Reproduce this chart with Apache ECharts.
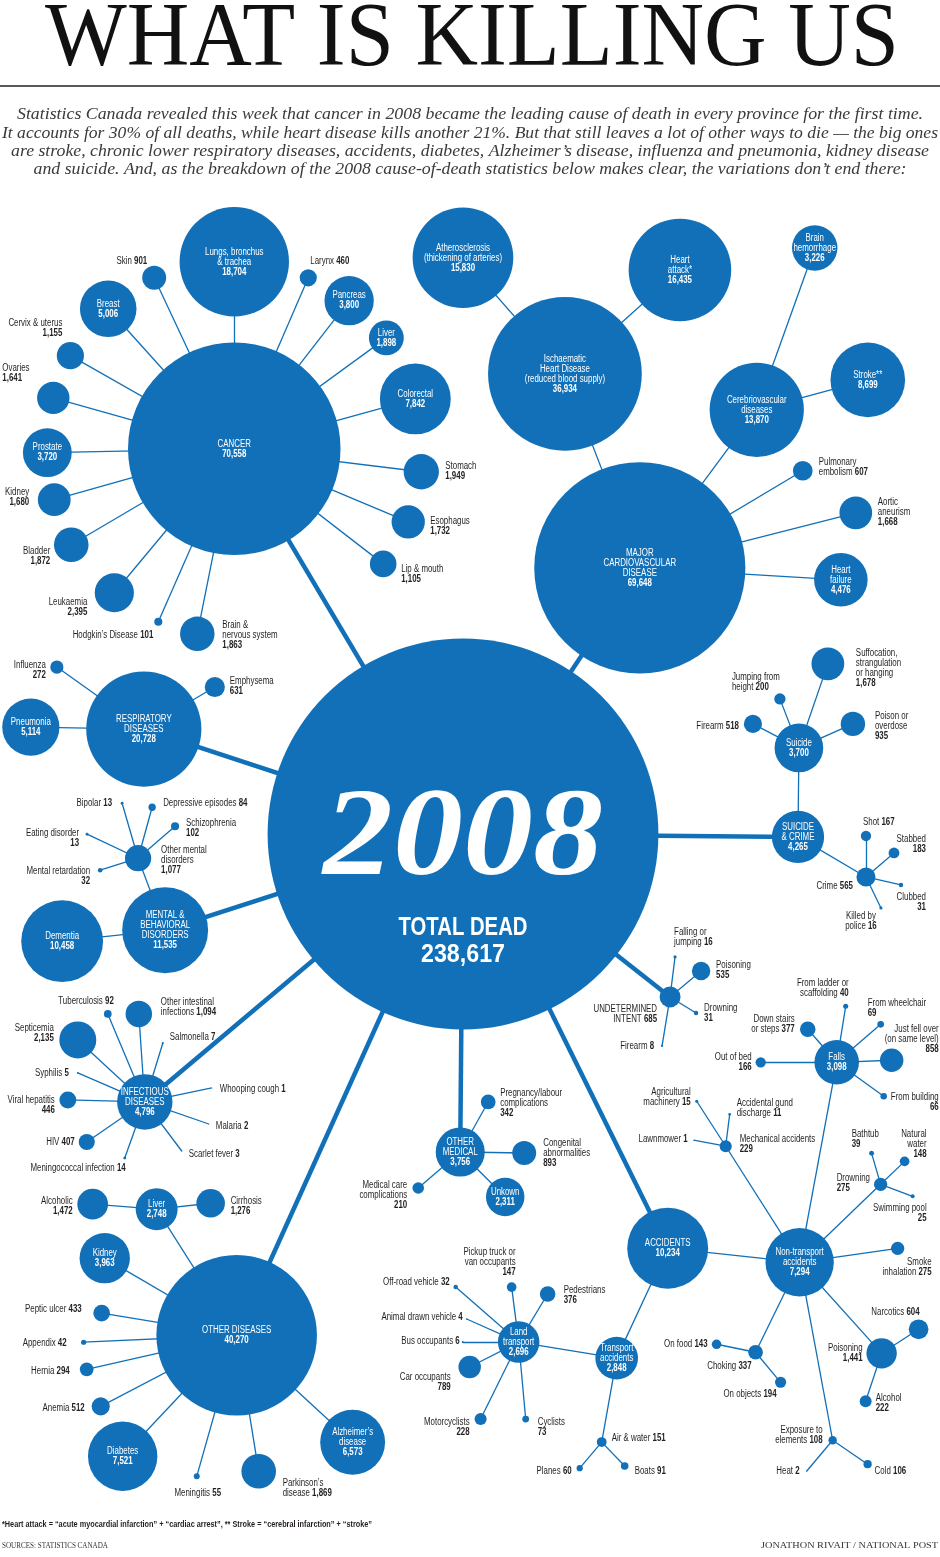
<!DOCTYPE html>
<html><head><meta charset="utf-8">
<script src="https://cdn.jsdelivr.net/npm/echarts@6/dist/echarts.min.js"></script>
<style>html,body{margin:0;padding:0;background:#fff}#chart{width:940px;height:1557px}</style>
</head><body><div id="chart"></div>
<script>
// ---------------- DATA (deaths, Canada 2008) ----------------
const year = '2008';
const rootLabel = 'TOTAL DEAD';
const rootDeaths = 238617;

const causeLabels = ['CANCER', 'MAJOR\nCARDIOVASCULAR\nDISEASE', 'RESPIRATORY\nDISEASES', 'MENTAL &\nBEHAVIORAL\nDISORDERS', 'INFECTIOUS\nDISEASES', 'OTHER DISEASES', 'OTHER\nMEDICAL', 'ACCIDENTS', 'UNDETERMINED\nINTENT ', 'SUICIDE\n& CRIME'];
const causeDeaths = [70558, 69648, 20728, 11535, 4796, 40270, 3756, 10234, 685, 4265];

const cancerLabels = ['Lungs, bronchus\n& trachea', 'Skin ', 'Breast', 'Cervix & uterus', 'Ovaries', 'Prostate', 'Kidney', 'Bladder', 'Leukaemia', 'Hodgkin’s Disease ', 'Brain &\nnervous system', 'Lip & mouth', 'Esophagus', 'Stomach', 'Colorectal', 'Liver', 'Pancreas', 'Larynx '];
const cancerDeaths = [18704, 901, 5006, 1155, 1641, 3720, 1680, 1872, 2395, 101, 1863, 1105, 1732, 1949, 7842, 1898, 3800, 460];

const cardioLabels = ['Ischaematic\nHeart Disease\n(reduced blood supply)', 'Cerebriovascular\ndiseases', 'Pulmonary\nembolism ', 'Aortic\naneurism', 'Heart\nfailure'];
const cardioDeaths = [36934, 13870, 607, 1668, 4476];
const ischaemicLabels = ['Atherosclerosis\n(thickening of arteries)', 'Heart\nattack*'];
const ischaemicDeaths = [15830, 16435];
const cerebroLabels = ['Brain\nhemorrhage', 'Stroke**'];
const cerebroDeaths = [3226, 8699];

const respiratoryLabels = ['Influenza', 'Emphysema', 'Pneumonia'];
const respiratoryDeaths = [272, 631, 5114];

const mentalLabels = ['Dementia', 'Other mental\ndisorders'];
const mentalDeaths = [10458, 1077];
const otherMentalLabels = ['Bipolar ', 'Depressive episodes ', 'Schizophrenia', 'Eating disorder', 'Mental retardation'];
const otherMentalDeaths = [13, 84, 102, 13, 32];

const infectiousLabels = ['Tuberculosis ', 'Other intestinal\ninfections ', 'Septicemia', 'Salmonella ', 'Syphilis ', 'Whooping cough ', 'Viral hepatitis', 'Malaria ', 'HIV ', 'Scarlet fever ', 'Meningococcal infection '];
const infectiousDeaths = [92, 1094, 2135, 7, 5, 1, 446, 2, 407, 3, 14];

const otherDiseaseLabels = ['Liver', 'Kidney', 'Peptic ulcer ', 'Appendix ', 'Hernia ', 'Anemia ', 'Diabetes', 'Meningitis ', 'Parkinson’s\ndisease ', 'Alzheimer’s\ndisease'];
const otherDiseaseDeaths = [2748, 3963, 433, 42, 294, 512, 7521, 55, 1869, 6573];
const liverLabels = ['Alcoholic', 'Cirrhosis'];
const liverDeaths = [1472, 1276];

const otherMedicalLabels = ['Pregnancy/labour\ncomplications', 'Congenital\nabnormalities', 'Unkown', 'Medical care\ncomplications'];
const otherMedicalDeaths = [342, 893, 2311, 210];

const accidentLabels = ['Non-transport\naccidents', 'Transport\naccidents'];
const accidentDeaths = [7294, 2848];
const nonTransportLabels = ['Falls', 'Mechanical accidents', 'Drowning', 'Smoke\ninhalation ', 'Poisoning', 'Exposure to\nelements ', 'Choking '];
const nonTransportDeaths = [3098, 229, 275, 275, 1441, 108, 337];
const fallLabels = ['From ladder or\nscaffolding ', 'From wheelchair', 'Just fell over\n(on same level)', 'From building', 'Down stairs\nor steps ', 'Out of bed'];
const fallDeaths = [40, 69, 858, 66, 377, 166];
const mechanicalLabels = ['Agricultural\nmachinery ', 'Accidental gund\ndischarge ', 'Lawnmower '];
const mechanicalDeaths = [15, 11, 1];
const drowningLabels = ['Bathtub', 'Natural\nwater', 'Swimming pool'];
const drowningDeaths = [39, 148, 25];
const poisoningLabels = ['Narcotics ', 'Alcohol'];
const poisoningDeaths = [604, 222];
const exposureLabels = ['Heat ', 'Cold '];
const exposureDeaths = [2, 106];
const chokingLabels = ['On food ', 'On objects '];
const chokingDeaths = [143, 194];
const transportLabels = ['Land\ntransport', 'Air & water '];
const transportDeaths = [2696, 151];
const landLabels = ['Pickup truck or\nvan occupants', 'Off-road vehicle ', 'Pedestrians', 'Animal drawn vehicle ', 'Bus occupants ', 'Car occupants', 'Motorcyclists', 'Cyclists'];
const landDeaths = [147, 32, 376, 4, 6, 789, 228, 73];
const airWaterLabels = ['Planes ', 'Boats '];
const airWaterDeaths = [60, 91];

const undeterminedLabels = ['Falling or\njumping ', 'Poisoning', 'Drowning', 'Firearm '];
const undeterminedDeaths = [16, 535, 31, 8];
const suicideCrimeLabels = ['Suicide', 'Crime '];
const suicideCrimeDeaths = [3700, 565];
const suicideLabels = ['Firearm ', 'Jumping from\nheight ', 'Suffocation,\nstrangulation\nor hanging', 'Poison or\noverdose'];
const suicideDeaths = [518, 200, 1678, 935];
const crimeLabels = ['Shot ', 'Stabbed', 'Clubbed', 'Killed by\npolice '];
const crimeDeaths = [167, 183, 31, 16];

// [group, parent group, index of parent in that group, labels, deaths]
const hierarchy = [
  ['causes', 'root', 0, causeLabels, causeDeaths],
  ['cancer', 'causes', 0, cancerLabels, cancerDeaths],
  ['cardio', 'causes', 1, cardioLabels, cardioDeaths],
  ['ischaemic', 'cardio', 0, ischaemicLabels, ischaemicDeaths],
  ['cerebro', 'cardio', 1, cerebroLabels, cerebroDeaths],
  ['respiratory', 'causes', 2, respiratoryLabels, respiratoryDeaths],
  ['mental', 'causes', 3, mentalLabels, mentalDeaths],
  ['otherMental', 'mental', 1, otherMentalLabels, otherMentalDeaths],
  ['infectious', 'causes', 4, infectiousLabels, infectiousDeaths],
  ['otherDiseases', 'causes', 5, otherDiseaseLabels, otherDiseaseDeaths],
  ['liver', 'otherDiseases', 0, liverLabels, liverDeaths],
  ['otherMedical', 'causes', 6, otherMedicalLabels, otherMedicalDeaths],
  ['accidents', 'causes', 7, accidentLabels, accidentDeaths],
  ['nonTransport', 'accidents', 0, nonTransportLabels, nonTransportDeaths],
  ['falls', 'nonTransport', 0, fallLabels, fallDeaths],
  ['mechanical', 'nonTransport', 1, mechanicalLabels, mechanicalDeaths],
  ['drowning', 'nonTransport', 2, drowningLabels, drowningDeaths],
  ['poisoning', 'nonTransport', 4, poisoningLabels, poisoningDeaths],
  ['exposure', 'nonTransport', 5, exposureLabels, exposureDeaths],
  ['choking', 'nonTransport', 6, chokingLabels, chokingDeaths],
  ['transport', 'accidents', 1, transportLabels, transportDeaths],
  ['land', 'transport', 0, landLabels, landDeaths],
  ['airWater', 'transport', 1, airWaterLabels, airWaterDeaths],
  ['undetermined', 'causes', 8, undeterminedLabels, undeterminedDeaths],
  ['suicideCrime', 'causes', 9, suicideCrimeLabels, suicideCrimeDeaths],
  ['suicide', 'suicideCrime', 0, suicideLabels, suicideDeaths],
  ['crime', 'suicideCrime', 1, crimeLabels, crimeDeaths]
];

// ---------------- LAYOUT (branch direction in degrees, branch length) ----------------
const ROOT_POS = [463, 834];
const placement = {
  causes: [[-120.7,448],[-56.4,319.5],[-161.8,336],[162.1,313],[139.9,416],[114.3,550],[90.5,318],[63.7,462],[38.2,263.5],[0.5,335]],
  cancer: [[-90,187],[-115.1,188.8],[-132,188.4],[-150.4,188.5],[-164.3,188],[178.8,187],[164.2,187.1],[149.5,189.2],[129.8,187.4],[113.7,189],[101.3,188.7],[37.7,188.2],[22.8,188.7],[7,188.4],[-15.4,187.8],[-36.1,188.2],[-52.2,187.4],[-66.6,186.3]],
  cardio: [[-111.1,208],[-53.5,196.6],[-30.8,189.7],[-14.3,222.9],[3.4,201.4]],
  ischaemic: [[-131.3,154.5],[-42.1,155]],
  cerebro: [[-70.3,172],[-15.1,115]],
  respiratory: [[-144.5,106.8],[-30.6,82.5],[-179,113]],
  mental: [[173.9,103.6],[-110.6,76.9]],
  otherMental: [[-106.2,57.3],[-74.6,52.9],[-40.9,48.9],[-154.8,56.4],[162.5,39.8]],
  infectious: [[-112.8,95.5],[-93.9,88.2],[-137.2,91.3],[-73,61.7],[-156.6,73],[-11.8,68.4],[-178.5,77],[19,67.7],[145.4,70.5],[53,61.4],[109.7,59.5]],
  otherDiseases: [[-122.4,149.3],[-149.7,152.8],[-170.7,136.8],[177.4,153.2],[167.2,153.8],[152.4,153.4],[133.3,166.2],[105.8,146.6],[80.8,137.8],[42.7,157.8]],
  liver: [[-175.5,64.2],[-6.3,54.3]],
  otherMedical: [[-60.8,57.3],[0.9,64],[45,63.6],[139.4,55.3]],
  accidents: [[6.1,132.7],[114.9,121.2]],
  nonTransport: [[-79.5,203.4],[-122.5,137.6],[-43.9,112.4],[-8.1,99],[48,122.5],[79.5,181],[116.1,100.2]],
  falls: [[-80.9,56.7],[-40.8,58.1],[-2.1,55],[35.9,58],[-131.3,43.9],[180,76]],
  mechanical: [[-122.8,53.5],[-82.9,32.2],[-169.4,32.6]],
  drowning: [[-106.2,32.3],[-43.8,33.2],[20.6,34.2]],
  poisoning: [[-33,44.1],[108.4,50.6]],
  exposure: [[130,40.5],[34.4,42.4]],
  choking: [[-168.4,39.8],[50.2,39.1]],
  transport: [[-170.7,99.3],[100.1,85.3]],
  land: [[-97.3,55.4],[-138.9,83.6],[-58.9,56.1],[-156.1,56.9],[180,56],[153,55],[116.3,85.9],[84.8,77.3]],
  airWater: [[130.2,34.1],[46.2,33.2]],
  undetermined: [[-82.9,40.3],[-40,40.5],[31.6,30.5],[99.3,49.6]],
  suicideCrime: [[-89.4,89],[30.5,78.9]],
  suicide: [[-152.4,51.9],[-111.2,52.6],[-71,88.9],[-24,59.1]],
  crime: [[-90,41],[-40.6,36.9],[12.9,35.9],[64.2,34.4]]
};
// 'in' = white label inside the bubble, otherwise [dx, dy, align] of the outside label
const labelPlace = {
  causes: ['in','in','in','in','in','in','in','in',[-13,17,'right'],'in'],
  cancer: ['in',[-7,-17,'right'],'in',[-8,-27,'right'],[-51,-25,'left'],'in',[-25,-2,'right'],[-21,11,'right'],[-27,14,'right'],[-5,13,'right'],[25,1,'left'],[18,10,'left'],[22,4,'left'],[24,0,'left'],'in','in','in',[2,-17,'left']],
  cardio: ['in','in',[16,-3,'left'],[22,-1,'left'],'in'],
  ischaemic: ['in','in'],
  cerebro: ['in','in'],
  respiratory: [[-11,3,'right'],[15,-1,'left'],'in'],
  mental: ['in',[23,2,'left']],
  otherMental: [[-10,0,'right'],[11,-4,'left'],[11,2,'left'],[-8,4,'right'],[-10,6,'right']],
  infectious: [[6,-13,'right'],[22,-7,'left'],[-24,-7,'right'],[7,-6,'left'],[-9,0,'right'],[8,1,'left'],[-13,5,'right'],[7,2,'left'],[-12,0,'right'],[7,3,'left'],[1,10,'right']],
  otherDiseases: ['in','in',[-20,-4,'right'],[-17,1,'right'],[-17,2,'right'],[-16,2,'right'],'in',[1,17,'center'],[24,17,'left'],'in'],
  liver: [[-20,2,'right'],[20,3,'left']],
  otherMedical: [[12,1,'left'],[19,0,'left'],'in',[-11,7,'right']],
  accidents: ['in','in'],
  nonTransport: ['in',[14,-2,'left'],[-44,-1,'left'],[34,19,'right'],[-19,0,'right'],[-10,-5,'right'],[-4,14,'right']],
  falls: [[3,-18,'right'],[-13,-16,'left'],[47,-21,'right'],[55,6,'right'],[-13,-5,'right'],[-9,0,'right']],
  mechanical: [[-6,-4,'right'],[7,-6,'left'],[-6,-1,'right']],
  drowning: [[-20,-14,'left'],[22,-17,'right'],[14,17,'right']],
  poisoning: [[1,-17,'right'],[10,2,'left']],
  exposure: [[-7,0,'right'],[7,7,'left']],
  choking: [[-9,0,'right'],[-4,12,'right']],
  transport: ['in',[10,-4,'left']],
  land: [[4,-25,'right'],[-6,-5,'right'],[16,1,'left'],[-4,-2,'right'],[-3,-1,'right'],[-19,15,'right'],[-11,8,'right'],[12,8,'left']],
  airWater: [[-8,3,'right'],[10,5,'left']],
  undetermined: [[-1,-20,'left'],[15,-1,'left'],[8,0,'left'],[-8,0,'right']],
  suicideCrime: ['in',[-13,9,'right']],
  suicide: [[-14,2,'right'],[-48,-17,'left'],[28,4,'left'],[22,2,'left']],
  crime: [[-3,-14,'left'],[32,-9,'right'],[25,17,'right'],[-20,13,'center']]
};

// ---------------- STYLE ----------------
const BLUE = '#1170b8';
const INK = '#231f20';
const SANS = '"Liberation Sans", Arial, sans-serif';
const SERIF = '"Liberation Serif", "DejaVu Serif", serif';
const FS = 10, LH = 10, NARROW = 0.79;   // condensed look: horizontally squeezed sans

const diameter = v => Math.max(1, 0.8 * Math.sqrt(v));   // bubble area proportional to deaths
const fmt = v => v.toLocaleString('en-US');

const mctx = document.createElement('canvas').getContext('2d');
function fit(text, font, target) { mctx.font = font; mctx.textBaseline = 'alphabetic'; return target / mctx.measureText(text).width; }
// glyph extents relative to a 'middle' text baseline (as zrender draws single lines)
function vext(text, font) {
  mctx.font = font; mctx.textBaseline = 'middle';
  const m = mctx.measureText(text);
  return { up: m.actualBoundingBoxAscent, down: m.actualBoundingBoxDescent };
}
// font size giving a wanted glyph height, and the y that puts the glyph box at [top, bottom]
function sizeFor(text, style, family, height) {
  const e = vext(text, style + ' 100px ' + family);
  return 100 * height / (e.up + e.down);
}
function yFor(text, font, top, bottom) {
  const e = vext(text, font);
  return (top + bottom) / 2 - (e.down - e.up) / 2;
}

// ---------------- BUILD GRAPH ----------------
const nodes = [], links = [], labelEls = [];
const pos = { 'root:0': ROOT_POS };
nodes.push({ id: 'root:0', name: rootLabel, value: rootDeaths, x: ROOT_POS[0], y: ROOT_POS[1], symbolSize: diameter(rootDeaths) });

function addLabel(x, y, txt, align, color) {
  labelEls.push({
    type: 'text', z: 100, silent: true, x, y, scaleX: NARROW,
    style: {
      text: txt, fontFamily: SANS, fontSize: FS, lineHeight: LH, fill: color,
      align, verticalAlign: 'middle',
      rich: { v: { fontFamily: SANS, fontSize: FS, lineHeight: LH, fontWeight: 'bold', fill: color, align } }
    }
  });
}

hierarchy.forEach(([g, pg, pi, labels, values]) => {
  const pid = pg + ':' + pi;
  const p = pos[pid];
  labels.forEach((lab, i) => {
    const [ang, dist] = placement[g][i];
    const r = ang * Math.PI / 180;
    const x = p[0] + dist * Math.cos(r), y = p[1] + dist * Math.sin(r);
    const id = g + ':' + i;
    pos[id] = [x, y];
    const v = values[i];
    const txt = (lab.endsWith(' ') ? lab : lab + '\n') + '{v|' + fmt(v) + '}';
    const lp = labelPlace[g][i];
    if (lp === 'in') addLabel(x, y, txt, 'center', '#fff');
    else addLabel(x + lp[0], y + lp[1], txt, lp[2], INK);
    nodes.push({ id, name: lab.trim(), value: v, x, y, symbolSize: diameter(v) });
    links.push({ source: pid, target: id, lineStyle: { width: pg === 'root' ? 4.5 : 1.3 } });
  });
});
// invisible frame nodes so the graph view maps 1:1 onto the page
nodes.push({ id: 'frameA', x: 0, y: 0, symbolSize: 0, itemStyle: { opacity: 0 } });
nodes.push({ id: 'frameB', x: 940, y: 1557, symbolSize: 0, itemStyle: { opacity: 0 } });

// centre label of the root bubble
const yearFont = 'italic bold ' + sizeFor(year, 'italic bold', SERIF, 85).toFixed(1) + 'px ' + SERIF;
const totalFont = 'bold 25px ' + SANS;
labelEls.push({ type: 'text', z: 100, silent: true, x: ROOT_POS[0], y: yFor(year, yearFont, 790, 875), scaleX: fit(year, yearFont, 280),
  style: { text: year, font: yearFont, fill: '#fff', align: 'center', verticalAlign: 'middle' } });
labelEls.push({ type: 'text', z: 100, silent: true, x: ROOT_POS[0], y: ROOT_POS[1] + 94, scaleX: fit(rootLabel, totalFont, 129),
  style: { text: rootLabel, font: totalFont, fill: '#fff', align: 'center', verticalAlign: 'middle' } });
labelEls.push({ type: 'text', z: 100, silent: true, x: ROOT_POS[0], y: ROOT_POS[1] + 121, scaleX: fit(fmt(rootDeaths), totalFont, 84),
  style: { text: fmt(rootDeaths), font: totalFont, fill: '#fff', align: 'center', verticalAlign: 'middle' } });

// ---------------- TEXT ----------------
const intro = [
  'Statistics Canada revealed this week that cancer in 2008 became the leading cause of death in every province for the first time.',
  'It accounts for 30% of all deaths, while heart disease kills another 21%. But that still leaves a lot of other ways to die — the big ones',
  'are stroke, chronic lower respiratory diseases, accidents, diabetes, Alzheimer’s disease, influenza and pneumonia, kidney disease',
  'and suicide. And, as the breakdown of the 2008 cause-of-death statistics below makes clear, the variations don’t end there:'
];
const introWidths = [906, 936, 918, 873];
const titleText = 'WHAT IS KILLING US';
const footnote = '*Heart attack = “acute myocardial infarction” + “cardiac arrest”, ** Stroke = “cerebral infarction” + “stroke”';
const sourceText = 'SOURCES: STATISTICS CANADA';
const creditText = 'JONATHON RIVAIT / NATIONAL POST';

const titleFont = sizeFor('H', '', SERIF, 60).toFixed(1) + 'px ' + SERIF;
const introFont = 'italic 16px ' + SERIF;
const footFont = 'bold 8.5px ' + SANS;
const srcFont = '7.5px ' + SERIF;

const graphic = [
  { type: 'text', x: 472, y: yFor('H', titleFont, 5, 65), scaleX: fit(titleText, titleFont, 854),
    style: { text: titleText, font: titleFont, fill: '#111', align: 'center', verticalAlign: 'middle' } },
  { type: 'line', shape: { x1: 0, y1: 86, x2: 940, y2: 86 }, style: { stroke: '#222', lineWidth: 1.5 } },
  ...intro.map((t, i) => ({ type: 'text', x: 470, y: 115 + i * 18.3, scaleX: fit(t, introFont, introWidths[i]),
    style: { text: t, font: introFont, fill: '#3a3a3a', align: 'center', verticalAlign: 'middle' } })),
  { type: 'text', x: 2, y: 1525, scaleX: fit(footnote, footFont, 370),
    style: { text: footnote, font: footFont, fill: INK, align: 'left', verticalAlign: 'middle' } },
  { type: 'text', x: 2, y: 1546, scaleX: fit(sourceText, srcFont, 106),
    style: { text: sourceText, font: srcFont, fill: '#333', align: 'left', verticalAlign: 'middle' } },
  { type: 'text', x: 938, y: 1546, scaleX: fit(creditText, srcFont, 177),
    style: { text: creditText, font: srcFont, fill: '#333', align: 'right', verticalAlign: 'middle' } },
  ...labelEls
];

const chart = echarts.init(document.getElementById('chart'), null, { renderer: 'canvas' });
chart.setOption({
  animation: false,
  backgroundColor: '#fff',
  series: [{
    type: 'graph', layout: 'none', left: 0, top: 0, width: 940, height: 1557,
    roam: false, silent: true, animation: false, z: 2,
    itemStyle: { color: BLUE },
    lineStyle: { color: BLUE, opacity: 1, curveness: 0 },
    label: { show: false },
    emphasis: { disabled: true },
    data: nodes, links
  }],
  graphic: { elements: graphic }
});
</script></body></html>
